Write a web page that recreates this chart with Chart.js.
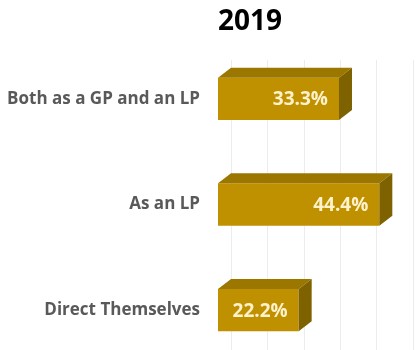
<!DOCTYPE html>
<html>
<head>
<meta charset="utf-8">
<script src="https://cdn.jsdelivr.net/npm/chart.js@4/dist/chart.umd.min.js"></script>
<style>
  html, body { margin: 0; padding: 0; background: #fff; overflow: hidden; }
  canvas { display: block; }
</style>
</head>
<body>
<canvas id="barChart" width="436" height="363"></canvas>
<script>
// Categories and shares (%)
const categories = ['Both as a GP and an LP', 'As an LP', 'Direct Themselves'];
const shares = [33.3, 44.4, 22.2];
const valueLabels = ['33.3%', '44.4%', '22.2%'];
const chartTitle = '2019';

// 3D box depth
const DEPTH_X = 13;
const DEPTH_Y = -10;

const FRONT = '#bf9000';
const TOP = '#9c7700';
const SIDE = '#7f6200';

// Grid lines sit on the back wall, shifted by the box depth
const backGrid = {
  id: 'backGrid',
  beforeDatasetsDraw(chart) {
    const { ctx, chartArea, scales } = chart;
    ctx.save();
    ctx.strokeStyle = '#ececec';
    ctx.lineWidth = 1;
    scales.x.ticks.forEach(t => {
      const px = Math.round(scales.x.getPixelForValue(t.value) + DEPTH_X) + 0.5;
      ctx.beginPath();
      ctx.moveTo(px, chartArea.top + 14);
      ctx.lineTo(px, chartArea.bottom);
      ctx.stroke();
    });
    ctx.restore();
  }
};

// Top and side faces of each bar, plus the value labels
const boxFaces = {
  id: 'boxFaces',
  afterDatasetsDraw(chart) {
    const { ctx } = chart;
    const meta = chart.getDatasetMeta(0);
    ctx.save();
    meta.data.forEach((bar, i) => {
      const top = bar.y - bar.height / 2;
      const bottom = bar.y + bar.height / 2;
      const left = bar.base;
      const right = bar.x;

      ctx.fillStyle = TOP;
      ctx.beginPath();
      ctx.moveTo(left, top);
      ctx.lineTo(right, top);
      ctx.lineTo(right + DEPTH_X, top + DEPTH_Y);
      ctx.lineTo(left + DEPTH_X, top + DEPTH_Y);
      ctx.closePath();
      ctx.fill();

      ctx.fillStyle = SIDE;
      ctx.beginPath();
      ctx.moveTo(right, top);
      ctx.lineTo(right + DEPTH_X, top + DEPTH_Y);
      ctx.lineTo(right + DEPTH_X, bottom + DEPTH_Y);
      ctx.lineTo(right, bottom);
      ctx.closePath();
      ctx.fill();

      ctx.fillStyle = '#fff2cc';
      ctx.font = 'bold 19px "Open Sans"';
      ctx.textAlign = 'right';
      ctx.textBaseline = 'middle';
      ctx.fillText(valueLabels[i], right - 11, bar.y + 1);
    });
    ctx.restore();
  }
};

const titleText = {
  id: 'titleText',
  afterDraw(chart) {
    const { ctx } = chart;
    ctx.save();
    ctx.fillStyle = '#000';
    ctx.font = 'bold 28px "Open Sans"';
    ctx.textAlign = 'center';
    ctx.textBaseline = 'middle';
    ctx.fillText(chartTitle, 250, 22);
    ctx.restore();
  }
};

new Chart(document.getElementById('barChart'), {
  type: 'bar',
  data: {
    labels: categories,
    datasets: [{
      data: shares,
      backgroundColor: FRONT,
      borderWidth: 0,
      categoryPercentage: 1,
      barPercentage: 0.4
    }]
  },
  options: {
    indexAxis: 'y',
    responsive: false,
    animation: false,
    layout: { padding: { top: 46, right: 0, bottom: 0, left: 0 } },
    plugins: {
      legend: { display: false },
      tooltip: { enabled: false }
    },
    scales: {
      x: {
        display: false,
        min: 0,
        max: 60,
        ticks: { stepSize: 10 }
      },
      y: {
        border: { display: false },
        grid: { display: false, drawTicks: false },
        afterFit(scale) {
          scale.width = 218;
          scale.paddingTop = 0;
          scale.paddingBottom = 0;
        },
        ticks: {
          padding: 18,
          color: '#595959',
          font: { family: 'Open Sans', size: 17, weight: 'bold' }
        }
      }
    }
  },
  plugins: [backGrid, boxFaces, titleText]
});
</script>
</body>
</html>
